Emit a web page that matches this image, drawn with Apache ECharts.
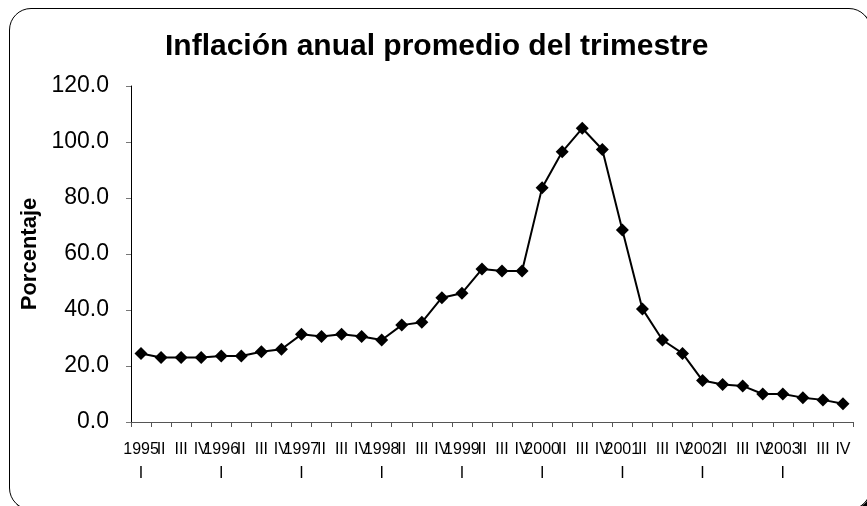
<!DOCTYPE html>
<html>
<head>
<meta charset="utf-8">
<script src="https://cdn.jsdelivr.net/npm/echarts@6/dist/echarts.min.js"></script>
<style>
  html, body { margin: 0; padding: 0; background: #fff; overflow: hidden; }
  #wrap { position: relative; width: 867px; height: 506px; }
  #frame {
    position: absolute; left: 9px; top: 8px; width: 862px; height: 502px;
    border: 1.5px solid #000; border-radius: 22px; box-sizing: border-box;
    box-shadow: 3px 3px 0 #000;
  }
  #chart { position: absolute; left: 0; top: 0; width: 867px; height: 506px; }
</style>
</head>
<body>
<div id="wrap">
  <div id="frame"></div>
  <div id="chart"></div>
</div>
<script>
const years = ['1995', '1996', '1997', '1998', '1999', '2000', '2001', '2002', '2003']
const quarters = ['I', 'II', 'III', 'IV']

// quarterly labels: first quarter carries the year above the numeral
const categories = []
years.forEach((y) => {
  quarters.forEach((q, i) => categories.push(i === 0 ? `${y}\n${q}` : q))
})

const inflation = [
  24.5, 23.0, 23.0, 23.0,
  23.6, 23.6, 25.1, 26.0,
  31.3, 30.5, 31.3, 30.5,
  29.3, 34.6, 35.6, 44.4,
  46.0, 54.6, 53.9, 53.9,
  83.7, 96.5, 104.9, 97.3,
  68.6, 40.4, 29.3, 24.5,
  14.8, 13.4, 12.9, 10.0,
  10.0, 8.7, 7.9, 6.5,
]

const yTicks = [0, 20, 40, 60, 80, 100, 120]

const font = "'Liberation Sans', Arial, sans-serif"
const chart = echarts.init(document.getElementById('chart'))

chart.setOption({
  animation: false,
  title: {
    text: 'Inflación anual promedio del trimestre',
    left: 165,
    top: 32,
    padding: 0,
    textStyle: { fontFamily: font, fontSize: 30, fontWeight: 'bold', color: '#000' },
  },
  grid: { left: 131, right: 14, top: 86, bottom: 84, containLabel: false },
  xAxis: {
    type: 'category',
    data: categories,
    boundaryGap: true,
    axisLine: { lineStyle: { color: '#555', width: 1 } },
    axisTick: { show: true, length: 5, lineStyle: { color: '#555' } },
    axisLabel: {
      interval: 0,
      margin: 16,
      color: '#000',
      fontFamily: font,
      fontSize: 16,
      lineHeight: 24,
    },
    splitLine: { show: false },
  },
  yAxis: {
    type: 'value',
    min: yTicks[0],
    max: yTicks[yTicks.length - 1],
    interval: 20,
    name: 'Porcentaje',
    nameLocation: 'middle',
    nameRotate: 90,
    nameGap: 87,
    nameTextStyle: { fontFamily: font, fontSize: 22, fontWeight: 'bold', color: '#000' },
    axisLine: { show: true, lineStyle: { color: '#000', width: 1 } },
    axisTick: { show: true, length: 5, lineStyle: { color: '#777' } },
    axisLabel: {
      margin: 22,
      color: '#000',
      fontFamily: font,
      fontSize: 23,
      formatter: (v) => v.toFixed(1),
    },
    splitLine: { show: false },
  },
  series: [{
    type: 'line',
    data: inflation,
    symbol: 'diamond',
    symbolSize: 13,
    lineStyle: { color: '#000', width: 2 },
    itemStyle: { color: '#000' },
  }],
})
</script>
</body>
</html>
